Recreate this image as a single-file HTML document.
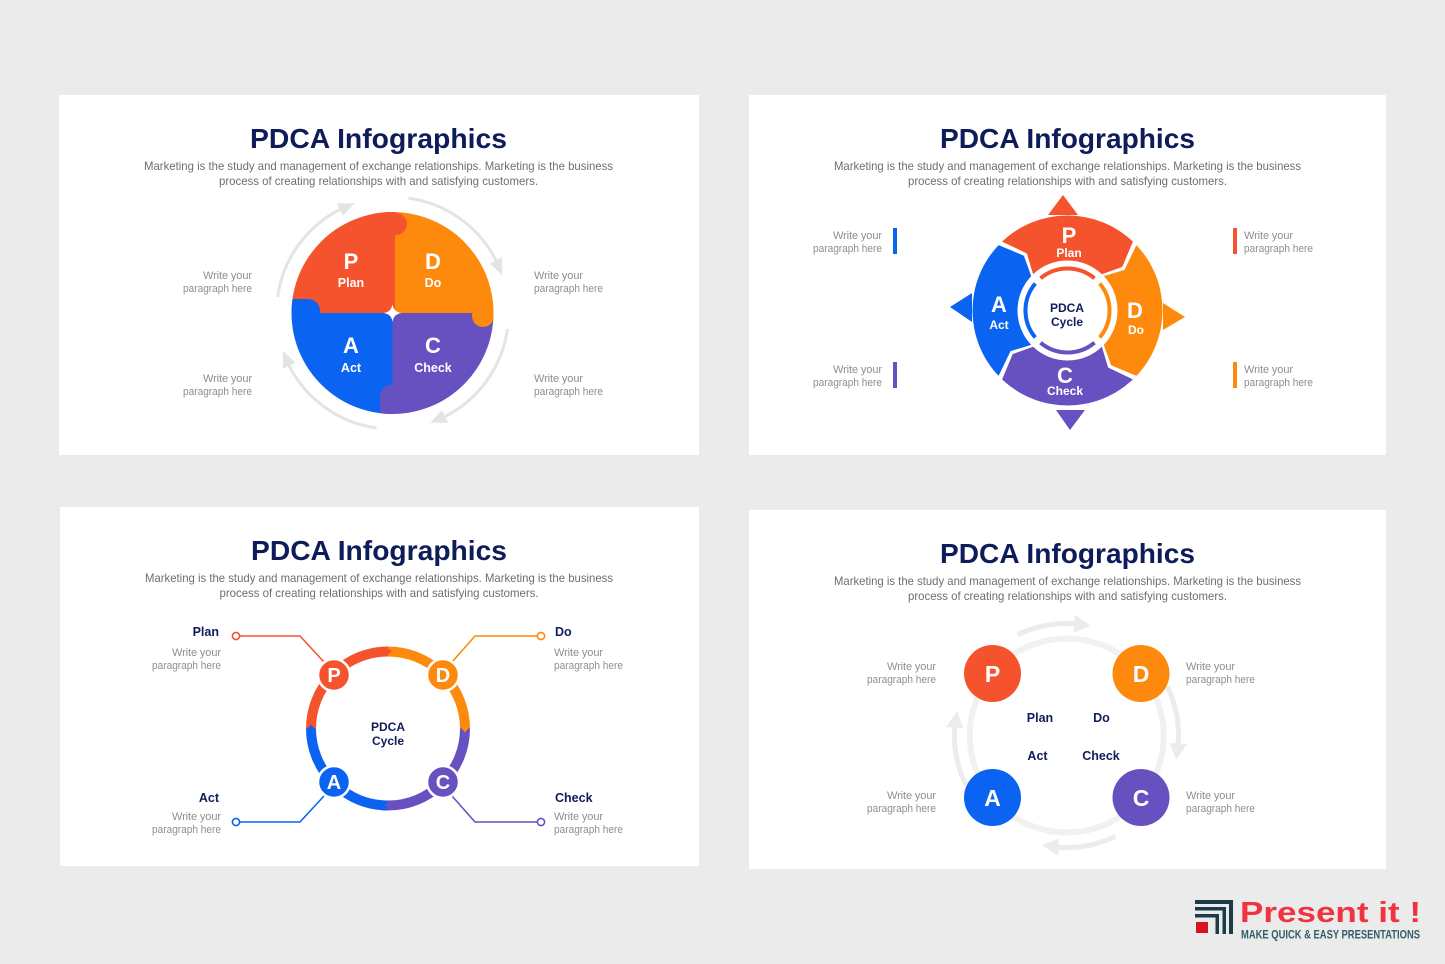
<!DOCTYPE html>
<html><head><meta charset="utf-8"><style>
html,body{margin:0;padding:0;background:#ebebeb;}
svg{display:block;}
text{font-family:"Liberation Sans",Arial,sans-serif;}
.t{font-size:28px;font-weight:bold;fill:#0f1c5a;text-anchor:middle;}
.s{font-size:12px;fill:#6e6e6e;text-anchor:middle;}
.w{font-size:11px;fill:#8e8e8e;}
.L{font-weight:bold;fill:#fff;text-anchor:middle;}
.n{font-weight:bold;fill:#101d5a;}
</style></head><body>
<svg width="1445" height="964" viewBox="0 0 1445 964" xmlns="http://www.w3.org/2000/svg">
<rect width="1445" height="964" fill="#ebebeb"/>
<!-- panels -->
<rect x="59" y="95" width="640" height="360" fill="#fff"/>
<rect x="749" y="95" width="637" height="360" fill="#fff"/>
<rect x="60" y="507" width="639" height="359" fill="#fff"/>
<rect x="749" y="510" width="637" height="359" fill="#fff"/>

<!-- titles & subtitles -->
<text class="t" x="378.5" y="148" textLength="257" lengthAdjust="spacingAndGlyphs">PDCA Infographics</text>
<text class="s" x="378.5" y="170" textLength="469" lengthAdjust="spacingAndGlyphs">Marketing is the study and management of exchange relationships. Marketing is the business</text>
<text class="s" x="378.5" y="185" textLength="319" lengthAdjust="spacingAndGlyphs">process of creating relationships with and satisfying customers.</text>

<text class="t" x="1067.5" y="148" textLength="255" lengthAdjust="spacingAndGlyphs">PDCA Infographics</text>
<text class="s" x="1067.5" y="170" textLength="467" lengthAdjust="spacingAndGlyphs">Marketing is the study and management of exchange relationships. Marketing is the business</text>
<text class="s" x="1067.5" y="185" textLength="319" lengthAdjust="spacingAndGlyphs">process of creating relationships with and satisfying customers.</text>

<text class="t" x="379" y="560" textLength="256" lengthAdjust="spacingAndGlyphs">PDCA Infographics</text>
<text class="s" x="379" y="582" textLength="468" lengthAdjust="spacingAndGlyphs">Marketing is the study and management of exchange relationships. Marketing is the business</text>
<text class="s" x="379" y="597" textLength="319" lengthAdjust="spacingAndGlyphs">process of creating relationships with and satisfying customers.</text>

<text class="t" x="1067.5" y="563" textLength="255" lengthAdjust="spacingAndGlyphs">PDCA Infographics</text>
<text class="s" x="1067.5" y="585" textLength="467" lengthAdjust="spacingAndGlyphs">Marketing is the study and management of exchange relationships. Marketing is the business</text>
<text class="s" x="1067.5" y="600" textLength="319" lengthAdjust="spacingAndGlyphs">process of creating relationships with and satisfying customers.</text>

<!-- ========== PANEL 1 ========== -->
<defs><clipPath id="c1"><circle cx="392.5" cy="313" r="101"/></clipPath></defs>
<g clip-path="url(#c1)">
  <rect x="290" y="210" width="105" height="103" fill="#f5532e"/>
  <rect x="395" y="210" width="101" height="103" fill="#fd8a0c"/>
  <rect x="290" y="313" width="102.5" height="103" fill="#0b63f2"/>
  <rect x="392.5" y="313" width="104" height="103" fill="#6750c0"/>
  <!-- tabs -->
  <rect x="385" y="205" width="11" height="20" fill="#f5532e"/>
  <circle cx="396" cy="224" r="11" fill="#f5532e"/>
  <rect x="483" y="312" width="14" height="4" fill="#fd8a0c"/>
  <circle cx="483" cy="316" r="11" fill="#fd8a0c"/>
  <rect x="380" y="396" width="13" height="20" fill="#6750c0"/>
  <circle cx="391" cy="396" r="11" fill="#6750c0"/>
  <rect x="289" y="299" width="19" height="14" fill="#0b63f2"/>
  <circle cx="308" cy="311" r="12" fill="#0b63f2"/>
</g>
<path d="M392.5,304 Q393.5,312 401.5,313 Q393.5,314 392.5,322 Q391.5,314 383.5,313 Q391.5,312 392.5,304 Z" fill="#fff"/>
<g fill="none" stroke="#e4e4e4" stroke-width="3">
  <path id="a1" d="M507.4,329.1 A116,116 0 0 1 443.4,417.3"/>
  <path d="M507.4,329.1 A116,116 0 0 1 443.4,417.3" transform="rotate(90 392.5 313)"/>
  <path d="M507.4,329.1 A116,116 0 0 1 443.4,417.3" transform="rotate(180 392.5 313)"/>
  <path d="M507.4,329.1 A116,116 0 0 1 443.4,417.3" transform="rotate(270 392.5 313)"/>
</g>
<g fill="#e4e4e4">
  <polygon points="442,410.1 448.3,422.6 430.3,422.7"/>
  <polygon points="442,410.1 448.3,422.6 430.3,422.7" transform="rotate(90 392.5 313)"/>
  <polygon points="442,410.1 448.3,422.6 430.3,422.7" transform="rotate(180 392.5 313)"/>
  <polygon points="442,410.1 448.3,422.6 430.3,422.7" transform="rotate(270 392.5 313)"/>
</g>
<text class="L" x="351" y="269" font-size="22">P</text>
<text class="L" x="351" y="287" font-size="12.5">Plan</text>
<text class="L" x="433" y="269" font-size="22">D</text>
<text class="L" x="433" y="287" font-size="12.5">Do</text>
<text class="L" x="351" y="353" font-size="22">A</text>
<text class="L" x="351" y="372" font-size="12.5">Act</text>
<text class="L" x="433" y="353" font-size="22">C</text>
<text class="L" x="433" y="372" font-size="12.5">Check</text>
<g class="w">
  <text x="252" y="279" text-anchor="end" textLength="49">Write your</text>
  <text x="252" y="292" text-anchor="end" textLength="69" lengthAdjust="spacingAndGlyphs">paragraph here</text>
  <text x="252" y="382" text-anchor="end" textLength="49">Write your</text>
  <text x="252" y="395" text-anchor="end" textLength="69" lengthAdjust="spacingAndGlyphs">paragraph here</text>
  <text x="534" y="279" textLength="49">Write your</text>
  <text x="534" y="292" textLength="69" lengthAdjust="spacingAndGlyphs">paragraph here</text>
  <text x="534" y="382" textLength="49">Write your</text>
  <text x="534" y="395" textLength="69" lengthAdjust="spacingAndGlyphs">paragraph here</text>
</g>

<!-- ========== PANEL 2 ========== -->
<g>
  <path d="M1002.1,241.6 A95,95 0 0 1 1132.9,241.6 L1122.3,266.9 L1101.9,274.2 A50,50 0 0 0 1033.1,274.2 L1026.9,253.5 Z" fill="#f5532e"/>
  <path d="M1002.1,241.6 A95,95 0 0 1 1132.9,241.6 L1122.3,266.9 L1101.9,274.2 A50,50 0 0 0 1033.1,274.2 L1026.9,253.5 Z" fill="#fd8a0c" transform="rotate(90 1067.5 310.5)"/>
  <path d="M1002.1,241.6 A95,95 0 0 1 1132.9,241.6 L1122.3,266.9 L1101.9,274.2 A50,50 0 0 0 1033.1,274.2 L1026.9,253.5 Z" fill="#6750c0" transform="rotate(180 1067.5 310.5)"/>
  <path d="M1002.1,241.6 A95,95 0 0 1 1132.9,241.6 L1122.3,266.9 L1101.9,274.2 A50,50 0 0 0 1033.1,274.2 L1026.9,253.5 Z" fill="#0b63f2" transform="rotate(270 1067.5 310.5)"/>
  <g fill="none" stroke-width="4">
    <path d="M1040.5,278.3 A42,42 0 0 1 1094.5,278.3" stroke="#f5532e"/>
    <path d="M1040.5,278.3 A42,42 0 0 1 1094.5,278.3" stroke="#fd8a0c" transform="rotate(90 1067.5 310.5)"/>
    <path d="M1040.5,278.3 A42,42 0 0 1 1094.5,278.3" stroke="#6750c0" transform="rotate(180 1067.5 310.5)"/>
    <path d="M1040.5,278.3 A42,42 0 0 1 1094.5,278.3" stroke="#0b63f2" transform="rotate(270 1067.5 310.5)"/>
  </g>
  <polygon points="1063,195 1048,215 1078,215" fill="#f5532e"/>
  <polygon points="1185,317 1163,303 1163,330" fill="#fd8a0c"/>
  <polygon points="1070,430 1056,410 1085,410" fill="#6750c0"/>
  <polygon points="950,307 972,293 972,322" fill="#0b63f2"/>
</g>
<text class="L" x="1069" y="243" font-size="22">P</text>
<text class="L" x="1069" y="257" font-size="12">Plan</text>
<text class="L" x="1135" y="318" font-size="22">D</text>
<text class="L" x="1136" y="334" font-size="12">Do</text>
<text class="L" x="1065" y="383" font-size="22">C</text>
<text class="L" x="1065" y="395" font-size="12">Check</text>
<text class="L" x="999" y="312" font-size="22">A</text>
<text class="L" x="999" y="329" font-size="12">Act</text>
<text class="n" x="1067" y="312" font-size="12" text-anchor="middle">PDCA</text>
<text class="n" x="1067" y="326" font-size="12" text-anchor="middle">Cycle</text>
<rect x="893" y="228" width="4" height="26" fill="#0b63f2"/>
<rect x="893" y="362" width="4" height="26" fill="#6750c0"/>
<rect x="1233" y="228" width="4" height="26" fill="#f5532e"/>
<rect x="1233" y="362" width="4" height="26" fill="#fd8a0c"/>
<g class="w">
  <text x="882" y="239" text-anchor="end" textLength="49">Write your</text>
  <text x="882" y="252" text-anchor="end" textLength="69" lengthAdjust="spacingAndGlyphs">paragraph here</text>
  <text x="882" y="373" text-anchor="end" textLength="49">Write your</text>
  <text x="882" y="386" text-anchor="end" textLength="69" lengthAdjust="spacingAndGlyphs">paragraph here</text>
  <text x="1244" y="239" textLength="49">Write your</text>
  <text x="1244" y="252" textLength="69" lengthAdjust="spacingAndGlyphs">paragraph here</text>
  <text x="1244" y="373" textLength="49">Write your</text>
  <text x="1244" y="386" textLength="69" lengthAdjust="spacingAndGlyphs">paragraph here</text>
</g>

<!-- ========== PANEL 3 ========== -->
<g fill="none" stroke-width="10">
  <path d="M311,728.5 A77,77 0 0 1 388,651.5" stroke="#f5532e"/>
  <path d="M388,651.5 A77,77 0 0 1 465,728.5" stroke="#fd8a0c"/>
  <path d="M465,728.5 A77,77 0 0 1 388,805.5" stroke="#6750c0"/>
  <path d="M388,805.5 A77,77 0 0 1 311,728.5" stroke="#0b63f2"/>
</g>
<polygon points="386,646.5 392,651.5 386,656.5" fill="#f5532e"/>
<polygon points="460,726.5 465,732.5 470,726.5" fill="#fd8a0c"/>
<polygon points="390,800.5 384,805.5 390,810.5" fill="#6750c0"/>
<polygon points="306,730.5 311,724.5 316,730.5" fill="#0b63f2"/>
<g fill="none" stroke-width="1.6">
  <polyline points="239.5,636 300,636 324,662" stroke="#f5532e"/>
  <polyline points="537.5,636 475,636 452,662" stroke="#fd8a0c"/>
  <polyline points="239.5,822 300,822 324,796" stroke="#0b63f2"/>
  <polyline points="537.5,822 475,822 452,796" stroke="#6750c0"/>
  <circle cx="236" cy="636" r="3.6" stroke="#f5532e" fill="#fff"/>
  <circle cx="541" cy="636" r="3.6" stroke="#fd8a0c" fill="#fff"/>
  <circle cx="236" cy="822" r="3.6" stroke="#0b63f2" fill="#fff"/>
  <circle cx="541" cy="822" r="3.6" stroke="#6750c0" fill="#fff"/>
</g>
<g stroke="#fff" stroke-width="2.5">
  <circle cx="334" cy="675" r="16" fill="#f5532e"/>
  <circle cx="443" cy="675" r="16" fill="#fd8a0c"/>
  <circle cx="334" cy="782" r="16" fill="#0b63f2"/>
  <circle cx="443" cy="782" r="16" fill="#6750c0"/>
</g>
<text class="L" x="334" y="682" font-size="20">P</text>
<text class="L" x="443" y="682" font-size="20">D</text>
<text class="L" x="334" y="789" font-size="20">A</text>
<text class="L" x="443" y="789" font-size="20">C</text>
<text class="n" x="388" y="731" font-size="12" text-anchor="middle">PDCA</text>
<text class="n" x="388" y="745" font-size="12" text-anchor="middle">Cycle</text>
<text class="n" x="219" y="636" font-size="12.5" text-anchor="end">Plan</text>
<text class="n" x="555" y="636" font-size="12.5">Do</text>
<text class="n" x="219" y="802" font-size="12.5" text-anchor="end">Act</text>
<text class="n" x="555" y="802" font-size="12.5">Check</text>
<g class="w">
  <text x="221" y="656" text-anchor="end" textLength="49">Write your</text>
  <text x="221" y="669" text-anchor="end" textLength="69" lengthAdjust="spacingAndGlyphs">paragraph here</text>
  <text x="221" y="820" text-anchor="end" textLength="49">Write your</text>
  <text x="221" y="833" text-anchor="end" textLength="69" lengthAdjust="spacingAndGlyphs">paragraph here</text>
  <text x="554" y="656" textLength="49">Write your</text>
  <text x="554" y="669" textLength="69" lengthAdjust="spacingAndGlyphs">paragraph here</text>
  <text x="554" y="820" textLength="49">Write your</text>
  <text x="554" y="833" textLength="69" lengthAdjust="spacingAndGlyphs">paragraph here</text>
</g>

<!-- ========== PANEL 4 ========== -->
<circle cx="1066.75" cy="735.5" r="97" fill="none" stroke="#f1f1f1" stroke-width="6"/>
<g fill="none" stroke="#ececec" stroke-width="5">
  <path d="M1167.2,686.4 A112,112 0 0 1 1178.1,745.3"/>
  <path d="M1167.2,686.4 A112,112 0 0 1 1178.1,745.3" transform="rotate(90 1066.5 735.5)"/>
  <path d="M1167.2,686.4 A112,112 0 0 1 1178.1,745.3" transform="rotate(180 1066.5 735.5)"/>
  <path d="M1167.2,686.4 A112,112 0 0 1 1178.1,745.3" transform="rotate(270 1066.5 735.5)"/>
</g>
<g fill="#ececec">
  <polygon points="1169.5,742.8 1187,743.9 1176.1,760"/>
  <polygon points="1169.5,742.8 1187,743.9 1176.1,760" transform="rotate(90 1066.5 735.5)"/>
  <polygon points="1169.5,742.8 1187,743.9 1176.1,760" transform="rotate(180 1066.5 735.5)"/>
  <polygon points="1169.5,742.8 1187,743.9 1176.1,760" transform="rotate(270 1066.5 735.5)"/>
</g>
<circle cx="992.5" cy="673.5" r="28.5" fill="#f5532e"/>
<circle cx="1141" cy="673.5" r="28.5" fill="#fd8a0c"/>
<circle cx="992.5" cy="797.5" r="28.5" fill="#0b63f2"/>
<circle cx="1141" cy="797.5" r="28.5" fill="#6750c0"/>
<text class="L" x="992.5" y="682" font-size="23">P</text>
<text class="L" x="1141" y="682" font-size="23">D</text>
<text class="L" x="992.5" y="806" font-size="23">A</text>
<text class="L" x="1141" y="806" font-size="23">C</text>
<text class="n" x="1040" y="722" font-size="12.5" text-anchor="middle">Plan</text>
<text class="n" x="1101.5" y="722" font-size="12.5" text-anchor="middle">Do</text>
<text class="n" x="1037.5" y="760" font-size="12.5" text-anchor="middle">Act</text>
<text class="n" x="1101" y="760" font-size="12.5" text-anchor="middle">Check</text>
<g class="w">
  <text x="936" y="670" text-anchor="end" textLength="49">Write your</text>
  <text x="936" y="683" text-anchor="end" textLength="69" lengthAdjust="spacingAndGlyphs">paragraph here</text>
  <text x="936" y="799" text-anchor="end" textLength="49">Write your</text>
  <text x="936" y="812" text-anchor="end" textLength="69" lengthAdjust="spacingAndGlyphs">paragraph here</text>
  <text x="1186" y="670" textLength="49">Write your</text>
  <text x="1186" y="683" textLength="69" lengthAdjust="spacingAndGlyphs">paragraph here</text>
  <text x="1186" y="799" textLength="49">Write your</text>
  <text x="1186" y="812" textLength="69" lengthAdjust="spacingAndGlyphs">paragraph here</text>
</g>

<!-- ========== LOGO ========== -->
<g fill="#1d3a47">
  <rect x="1195" y="900" width="38" height="4"/>
  <rect x="1229" y="900" width="4" height="34"/>
  <rect x="1195" y="907" width="31" height="3.5"/>
  <rect x="1222.5" y="907" width="3.5" height="27"/>
  <rect x="1195" y="914" width="24" height="3.5"/>
  <rect x="1215.5" y="914" width="3.5" height="20"/>
</g>
<rect x="1196" y="922" width="12" height="11" fill="#d6141c"/>
<text x="1240" y="922" font-size="29" font-weight="bold" fill="#ef3340" textLength="181" lengthAdjust="spacingAndGlyphs">Present it !</text>
<text x="1241" y="938.5" font-size="11.5" font-weight="bold" fill="#2f5e66" textLength="179" lengthAdjust="spacingAndGlyphs">MAKE QUICK &amp; EASY PRESENTATIONS</text>
</svg>
</body></html>
